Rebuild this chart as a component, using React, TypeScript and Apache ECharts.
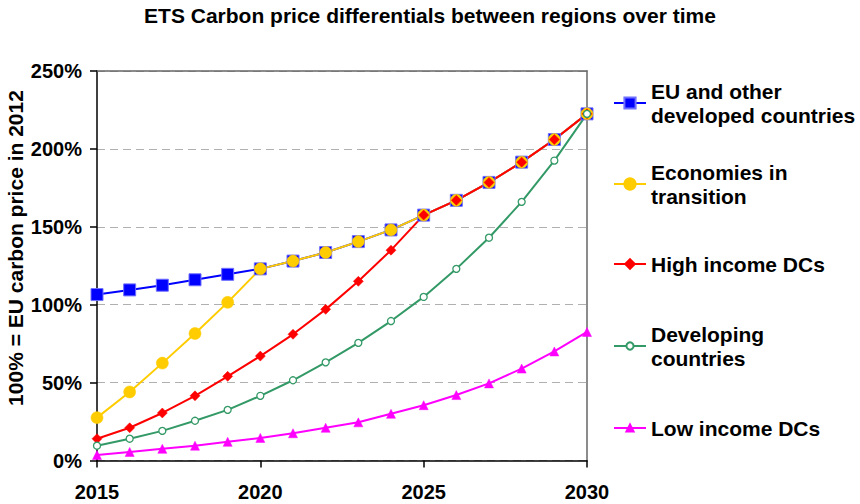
import React, { useEffect, useRef } from "react";
import * as echarts from "echarts";

const years = [2015, 2016, 2017, 2018, 2019, 2020, 2021, 2022, 2023, 2024, 2025, 2026, 2027, 2028, 2029, 2030];
const euDeveloped = [106.5, 109.5, 112.5, 116, 119.5, 123, 128, 133.5, 140.5, 148, 157.5, 167, 178.5, 191.5, 206, 222.5];
const transition = [27.5, 44, 62.5, 81.5, 101.5, 123, 128, 133.5, 140.5, 148, 157.5, 167, 178.5, 191.5, 206, 222.5];
const highIncome = [14, 21, 30.5, 41.5, 54, 67, 81, 97, 115, 135, 157.5, 167, 178.5, 191.5, 206, 222.5];
const developing = [9.5, 14, 19, 25.5, 32.5, 41.5, 51.5, 63, 75.5, 89.5, 105, 123, 143, 166, 192.5, 222.5];
const lowIncome = [3.5, 5.5, 7.5, 9.5, 12, 14.5, 17.5, 21, 24.5, 30, 35.5, 42, 49.5, 59, 70, 82.5];

const seriesNames = [
  "EU and other\ndeveloped countries",
  "Economies in\ntransition",
  "High income DCs",
  "Developing\ncountries",
  "Low income DCs",
];
const titleText = "ETS Carbon price differentials between regions over time";
const yAxisTitle = "100% = EU carbon price in 2012";

const FONT = "'Liberation Sans', Arial, sans-serif";

export default function App() {
  const ref = useRef<HTMLDivElement>(null);

  useEffect(() => {
    if (!ref.current) return;
    const chart = echarts.init(ref.current, undefined, { renderer: "svg" });
    const zip = (vals: number[]) => years.map((y, i) => [y, vals[i]]);

    const seriesDefs = [
      { name: seriesNames[0], data: euDeveloped, color: "#0000FF", symbol: "rect", size: 12, fill: "#0000FF" },
      { name: seriesNames[1], data: transition, color: "#FFCC00", symbol: "circle", size: 12, fill: "#FFCC00" },
      { name: seriesNames[2], data: highIncome, color: "#FF0000", symbol: "diamond", size: 10, fill: "#FF0000" },
      { name: seriesNames[3], data: developing, color: "#339966", symbol: "circle", size: 7, fill: "#FFFFFF" },
      { name: seriesNames[4], data: lowIncome, color: "#FF00FF", symbol: "triangle", size: 9, fill: "#FF00FF" },
    ];

    const legendTops = [67, 148, 252, 310, 416];
    const legendIconH = [14, 14, 12, 9, 9];
    const legends = seriesNames.map((n, i) => {
      const twoLine = n.indexOf("\n") >= 0;
      return {
        data: [n],
        left: 613,
        top: legendTops[i],
        padding: 0,
        itemWidth: 32,
        itemHeight: legendIconH[i],
        selectedMode: false,
        textStyle: {
          fontFamily: FONT,
          fontSize: 21,
          fontWeight: "bold",
          color: "#000",
          lineHeight: 24,
          padding: twoLine ? [24, 0, 0, 0] : 0,
        },
      };
    });

    chart.setOption({
      animation: false,
      backgroundColor: "#fff",
      title: {
        text: titleText,
        left: "center",
        top: 5,
        padding: 0,
        textStyle: { fontFamily: FONT, fontSize: 21, fontWeight: "bold", color: "#000" },
      },
      legend: legends,
      grid: { left: 97, right: 273, top: 71, bottom: 43.5 },
      xAxis: [
        {
          type: "value",
          min: 2015,
          max: 2030,
          interval: 5,
          axisLine: { show: true, lineStyle: { color: "#000", width: 1.5 } },
          axisTick: { show: true, inside: false, length: 7, lineStyle: { color: "#000", width: 1.5 } },
          axisLabel: {
            fontFamily: FONT,
            fontSize: 20,
            fontWeight: "bold",
            color: "#000",
            margin: 21,
            formatter: (v: number) => String(v),
          },
          splitLine: { show: false },
        },
        {
          type: "value",
          position: "top",
          min: 2015,
          max: 2030,
          interval: 5,
          axisLine: { show: true, onZero: false, lineStyle: { color: "#666", width: 1.5 } },
          axisTick: { show: false },
          axisLabel: { show: false },
          splitLine: { show: false },
        },
      ],
      yAxis: [
        {
          type: "value",
          min: 0,
          max: 250,
          interval: 50,
          axisLine: { show: true, lineStyle: { color: "#000", width: 1.5 } },
          axisTick: { show: true, inside: false, length: 7, lineStyle: { color: "#000", width: 1.5 } },
          axisLabel: {
            fontFamily: FONT,
            fontSize: 20,
            fontWeight: "bold",
            color: "#000",
            margin: 15,
            formatter: "{value}%",
          },
          splitLine: { show: true, lineStyle: { color: "#b0b0b0", type: [8, 5], width: 1.2 } },
        },
        {
          type: "value",
          position: "right",
          min: 0,
          max: 250,
          interval: 50,
          axisLine: { show: true, onZero: false, lineStyle: { color: "#666", width: 1.5 } },
          axisTick: { show: false },
          axisLabel: { show: false },
          splitLine: { show: false },
        },
      ],
      graphic: [
        {
          type: "text",
          x: 15,
          y: 248,
          rotation: Math.PI / 2,
          style: {
            text: yAxisTitle,
            fontFamily: FONT,
            fontSize: 21,
            fontWeight: "bold",
            fill: "#000",
            align: "center",
            verticalAlign: "middle",
          },
        },
      ],
      series: seriesDefs.map((s) => ({
        name: s.name,
        type: "line",
        xAxisIndex: 0,
        yAxisIndex: 0,
        data: zip(s.data),
        symbol: s.symbol,
        symbolSize: s.size,
        showAllSymbol: true,
        lineStyle: { color: s.color, width: 2 },
        itemStyle: {
          color: s.fill,
          borderColor: s.symbol === "rect" ? "#7070ff" : s.color,
          borderWidth: s.fill === "#FFFFFF" ? 1.3 : s.symbol === "rect" ? 1 : 0.5,
        },
        emphasis: { disabled: true },
      })),
    });
    return () => chart.dispose();
  }, []);

  return <div ref={ref} style={{ position: "fixed", left: 0, top: 0, width: 860, height: 504 }} />;
}
